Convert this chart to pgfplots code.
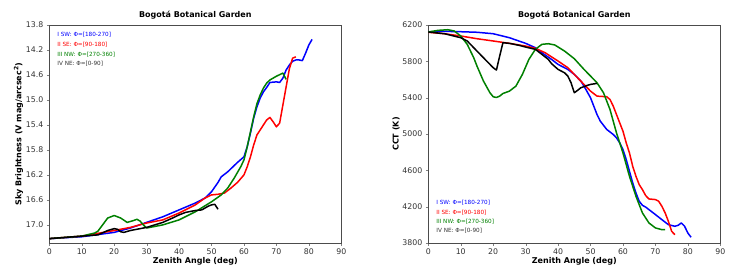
\documentclass[border=0pt]{standalone}
\usepackage{pgfplots}
\pgfplotsset{compat=1.18}
\usepackage{fontspec}
\setmainfont{DejaVu Sans}
\definecolor{mblue}{RGB}{0,0,255}
\definecolor{mred}{RGB}{255,0,0}
\definecolor{mgreen}{RGB}{0,128,0}
\tikzset{leg/.style={font=\fontsize{5.7}{6}\selectfont, anchor=west, inner sep=0pt}}
\pgfplotsset{
  common/.style={
    scale only axis, width=292pt, height=218pt,
    xmin=0, xmax=90, xtick={0,10,...,90},
    tick align=outside, tick pos=left,
    major tick length=2.5pt,
    tick label style={font=\fontsize{7.8}{8}\selectfont, color=black!80},
    label style={font=\bfseries\fontsize{8}{9}\selectfont},
    title style={font=\bfseries\fontsize{8}{9}\selectfont, yshift=-4pt},
    xlabel={Zenith Angle (deg)},
    title={Bogotá Botanical Garden},
    /pgf/number format/assume math mode=true,
    axis line style={black!70, line width=0.5pt},
    every axis plot/.append style={line width=1.5pt, line join=round},
    xlabel style={yshift=4pt},
    ylabel style={yshift=-4pt},
  },
}
\begin{document}
\begin{tikzpicture}
\path[use as bounding box] (-49.3pt,-33pt) rectangle (686.7pt,243pt);
\begin{axis}[common,
  y dir=reverse, ymin=13.8, ymax=17.29,
  ytick={13.8,14.2,14.6,15.0,15.4,15.8,16.2,16.6,17.0},
  yticklabel style={/pgf/number format/.cd, fixed, fixed zerofill, precision=1},
  ylabel={Sky Brightness (V mag/arcsec$^{\mathbf{2}}$)},
]
\addplot[mblue] coordinates {(0,17.22)(10,17.19)(20,17.12)(25,17.05)(30,16.96)(35,16.87)(40,16.76)(45,16.65)(48,16.57)(50,16.47)(52,16.32)(53,16.23)(55,16.15)(57,16.05)(58,16.0)(60,15.91)(61,15.75)(62,15.53)(63,15.29)(64,15.11)(65,14.97)(66,14.87)(67,14.80)(68,14.72)(70,14.71)(71,14.72)(72,14.65)(73,14.52)(74,14.44)(75,14.38)(76,14.36)(77,14.36)(78,14.37)(79,14.25)(80,14.12)(81,14.03)};
\addplot[mred] coordinates {(0,17.22)(10,17.18)(20,17.09)(25,17.04)(30,16.97)(35,16.92)(40,16.81)(45,16.68)(48,16.57)(50,16.52)(52,16.51)(54,16.49)(56,16.41)(58,16.32)(60,16.20)(61,16.07)(62,15.91)(63,15.72)(64,15.56)(65,15.48)(66,15.40)(67,15.32)(68,15.28)(69,15.35)(70,15.43)(71,15.37)(72,15.08)(73,14.79)(74,14.50)(75,14.33)(76,14.31)};
\addplot[mgreen] coordinates {(0,17.22)(10,17.18)(14,17.13)(15,17.10)(16,17.03)(18,16.89)(20,16.85)(22,16.89)(24,16.96)(26,16.93)(27,16.91)(28,16.94)(29,17.00)(30,17.05)(35,17.00)(40,16.92)(45,16.79)(50,16.63)(53,16.52)(55,16.41)(57,16.25)(59,16.07)(60,15.96)(61,15.75)(62,15.51)(63,15.27)(64,15.06)(65,14.92)(66,14.81)(67,14.73)(68,14.68)(70,14.62)(72,14.57)(73,14.67)};
\addplot[black] coordinates {(0,17.22)(10,17.18)(15,17.16)(18,17.09)(20,17.06)(21,17.07)(22,17.11)(23,17.12)(25,17.09)(28,17.06)(30,17.04)(35,16.96)(38,16.89)(40,16.84)(42,16.80)(45,16.77)(47,16.76)(49,16.70)(50,16.68)(51,16.67)(52,16.75)};
\node[leg, text=mblue] at (rel axis cs:0.027,0.954) {I SW: Φ=[180-270]};
\node[leg, text=mred] at (rel axis cs:0.027,0.908) {II SE: Φ=[90-180]};
\node[leg, text=mgreen] at (rel axis cs:0.027,0.866) {III NW: Φ=[270-360]};
\node[leg, text=black!80] at (rel axis cs:0.027,0.821) {IV NE: Φ=[0-90]};
\end{axis}
\begin{axis}[common, at={(379pt,0pt)},
  ymin=3800, ymax=6200, ytick={3800,4200,...,6200},
  yticklabel style={/pgf/number format/.cd, 1000 sep={}},
  ylabel={CCT (K)},
]
\addplot[mblue] coordinates {(0,6123)(5,6130)(10,6126)(15,6120)(20,6104)(25,6060)(30,5998)(33,5950)(35,5895)(38,5821)(40,5766)(43,5711)(45,5656)(47,5583)(48,5527)(50,5399)(51,5307)(52,5215)(53,5142)(55,5050)(57,4995)(58,4958)(59,4903)(60,4829)(61,4719)(62,4590)(63,4462)(64,4351)(65,4260)(66,4215)(67,4195)(68,4168)(70,4113)(72,4057)(74,4002)(76,3984)(77,3995)(78,4021)(79,3984)(80,3910)(81,3863)};
\addplot[mred] coordinates {(0,6120)(5,6104)(10,6079)(15,6049)(20,6024)(25,5998)(30,5968)(33,5943)(36,5895)(40,5803)(43,5730)(45,5656)(47,5583)(50,5472)(52,5417)(55,5410)(56,5380)(57,5307)(58,5215)(60,5031)(61,4903)(62,4792)(63,4645)(64,4535)(65,4443)(66,4388)(67,4322)(68,4285)(70,4278)(71,4260)(72,4204)(73,4131)(74,4039)(75,3929)(76,3892)};
\addplot[mgreen] coordinates {(0,6123)(3,6141)(6,6148)(8,6134)(10,6079)(12,5987)(14,5840)(15,5748)(17,5583)(19,5454)(20,5410)(21,5402)(22,5417)(23,5446)(25,5472)(27,5527)(29,5656)(31,5821)(33,5932)(35,5987)(37,5994)(39,5980)(42,5913)(45,5829)(48,5711)(50,5638)(52,5564)(54,5454)(56,5270)(58,5013)(60,4792)(62,4535)(64,4315)(66,4131)(68,4021)(70,3966)(72,3947)(73,3947)};
\addplot[black] coordinates {(0,6123)(5,6104)(10,6060)(12,6024)(15,5913)(18,5803)(20,5730)(21,5704)(22,5858)(23,6005)(25,5998)(28,5976)(30,5957)(33,5932)(35,5877)(37,5821)(38,5774)(40,5711)(42,5674)(43,5638)(44,5564)(45,5454)(46,5480)(47,5509)(49,5535)(50,5546)(52,5557)};
\node[leg, text=mblue] at (rel axis cs:0.027,0.183) {I SW: Φ=[180-270]};
\node[leg, text=mred] at (rel axis cs:0.027,0.138) {II SE: Φ=[90-180]};
\node[leg, text=mgreen] at (rel axis cs:0.027,0.097) {III NW: Φ=[270-360]};
\node[leg, text=black!80] at (rel axis cs:0.027,0.055) {IV NE: Φ=[0-90]};
\end{axis}
\end{tikzpicture}
\end{document}
